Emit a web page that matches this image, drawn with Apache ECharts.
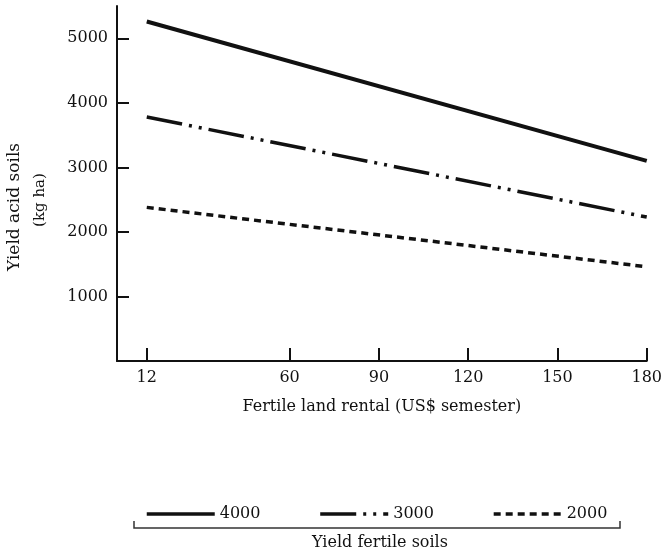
<!DOCTYPE html>
<html>
<head>
<meta charset="utf-8">
<script src="https://cdn.jsdelivr.net/npm/echarts@6/dist/echarts.min.js"></script>
<style>
  html, body { margin: 0; padding: 0; background: #fff; }
  #main { width: 665px; height: 551px; }
</style>
</head>
<body>
<div id="main"></div>
<script>
var chartDom = document.getElementById('main');
var myChart = echarts.init(chartDom);
var option;

// land rental (US$/semester)
var rental = [12, 180];
var rentalTicks = [12, 60, 90, 120, 150, 180];
var yieldTicks = [1000, 2000, 3000, 4000, 5000];

// yield on acid soils for each yield on fertile soils
var fertile4000 = [5260, 3100];
var fertile3000 = [3780, 2230];
var fertile2000 = [2380, 1460];

var font = 'DejaVu Serif';
var ink = '#111';

function pairs(ys) {
  return rental.map(function (x, i) {
    return [x, ys[i]];
  });
}

option = {
  animation: false,
  color: [ink, ink, ink],
  textStyle: { fontFamily: font, color: ink },
  grid: {
    left: 117,
    right: 17,
    top: 6,
    bottom: 190
  },
  legend: {
    left: 140,
    top: 501,
    itemWidth: 68,
    itemHeight: 14,
    itemGap: 58,
    itemStyle: { opacity: 0 },
    lineStyle: { width: 3.5 },
    textStyle: { fontFamily: font, fontSize: 16, color: ink },
    data: ['4000', '3000', '2000']
  },
  xAxis: {
    type: 'value',
    min: 2,
    max: 180,
    name: 'Fertile land rental (US$ semester)',
    nameLocation: 'middle',
    nameGap: 38,
    nameTextStyle: { fontFamily: font, fontSize: 16, color: ink },
    axisLine: { lineStyle: { color: ink, width: 2 } },
    axisTick: { inside: true, length: 13, customValues: rentalTicks, lineStyle: { color: ink, width: 2 } },
    axisLabel: { customValues: rentalTicks, margin: 9, fontFamily: font, fontSize: 16, color: ink },
    splitLine: { show: false }
  },
  yAxis: {
    type: 'value',
    min: 0,
    max: 5500,
    axisLine: { show: true, lineStyle: { color: ink, width: 2 } },
    axisTick: { show: true, inside: true, length: 12, customValues: yieldTicks, lineStyle: { color: ink, width: 2 } },
    axisLabel: {
      customValues: yieldTicks,
      margin: 9,
      fontFamily: font,
      fontSize: 16,
      color: ink,
      formatter: function (v) { return String(v); }
    },
    splitLine: { show: false }
  },
  graphic: [
    {
      type: 'text',
      x: 15, y: 207,
      rotation: Math.PI / 2,
      style: { text: 'Yield acid soils', font: '17px "DejaVu Serif"', fill: ink, align: 'center', verticalAlign: 'middle' }
    },
    {
      type: 'text',
      x: 40, y: 200,
      rotation: Math.PI / 2,
      style: { text: '(kg ha)', font: '15px "DejaVu Serif"', fill: ink, align: 'center', verticalAlign: 'middle' }
    },
    {
      type: 'polyline',
      shape: { points: [[134, 521], [134, 528], [620, 528], [620, 521]] },
      style: { stroke: '#333', lineWidth: 1.5, fill: null }
    },
    {
      type: 'text',
      x: 380, y: 543,
      style: { text: 'Yield fertile soils', font: '16px "DejaVu Serif"', fill: ink, align: 'center', verticalAlign: 'middle' }
    }
  ],
  series: [
    {
      name: '4000',
      type: 'line',
      symbol: 'none',
      data: pairs(fertile4000),
      itemStyle: { color: ink },
      lineStyle: { color: ink, width: 4, type: 'solid' }
    },
    {
      name: '3000',
      type: 'line',
      symbol: 'none',
      data: pairs(fertile3000),
      itemStyle: { color: ink },
      lineStyle: { color: ink, width: 3.5, type: [36, 7, 3, 7, 3, 7] }
    },
    {
      name: '2000',
      type: 'line',
      symbol: 'none',
      data: pairs(fertile2000),
      itemStyle: { color: ink },
      lineStyle: { color: ink, width: 3.5, type: [7, 5] }
    }
  ]
};

option && myChart.setOption(option);
</script>
</body>
</html>
